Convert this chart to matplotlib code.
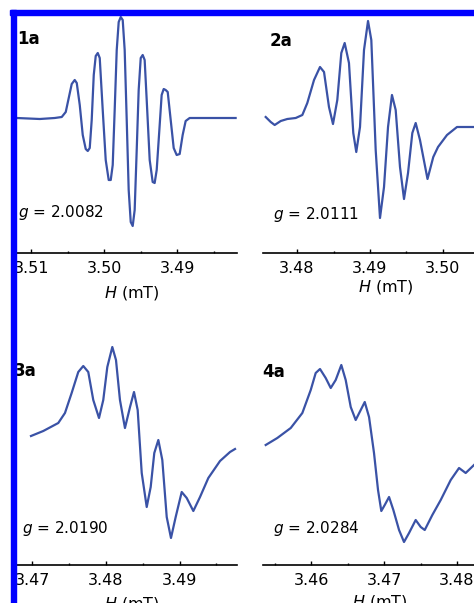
import matplotlib
matplotlib.use("Agg")
import matplotlib.pyplot as plt
from matplotlib.patches import Rectangle
from matplotlib.ticker import MultipleLocator, FormatStrFormatter

W, H = 474, 603

# EPR spectra, field in mT, signal in arbitrary units (baseline = 0)
field_1a = [3.51199, 3.50884, 3.50679, 3.50583, 3.50528, 3.50487, 3.50446, 3.50405,
            3.50377, 3.50336, 3.50295, 3.50254, 3.50226, 3.50199, 3.50172, 3.50144,
            3.50117, 3.50089, 3.50062, 3.50021, 3.49980, 3.49939, 3.49911, 3.49884,
            3.49857, 3.49829, 3.49802, 3.49774, 3.49747, 3.49720, 3.49692, 3.49665,
            3.49637, 3.49610, 3.49583, 3.49555, 3.49528, 3.49500, 3.49473, 3.49446,
            3.49418, 3.49377, 3.49336, 3.49309, 3.49281, 3.49240, 3.49213, 3.49185,
            3.49158, 3.49130, 3.49089, 3.49048, 3.49007, 3.48966, 3.48925, 3.48884,
            3.48829, 3.48555, 3.48199]
signal_1a = [0.00, -0.01, 0.00, 0.01, 0.06, 0.20, 0.34, 0.38,
             0.35, 0.13, -0.17, -0.31, -0.33, -0.30, -0.02, 0.43,
             0.62, 0.65, 0.60, 0.08, -0.42, -0.62, -0.62, -0.47,
             0.08, 0.68, 0.96, 1.01, 0.98, 0.68, -0.02, -0.72,
             -1.04, -1.08, -0.92, -0.32, 0.28, 0.60, 0.63, 0.58,
             0.18, -0.42, -0.64, -0.65, -0.52, -0.07, 0.23, 0.29,
             0.28, 0.26, -0.02, -0.30, -0.37, -0.36, -0.17, -0.03,
             0.00, 0.00, 0.00]

field_2a = [3.47571, 3.47640, 3.47694, 3.47777, 3.47867, 3.47982, 3.48073, 3.48141,
            3.48233, 3.48315, 3.48370, 3.48438, 3.48493, 3.48552, 3.48607, 3.48653,
            3.48712, 3.48771, 3.48812, 3.48863, 3.48918, 3.48973, 3.49018, 3.49078,
            3.49137, 3.49192, 3.49247, 3.49301, 3.49352, 3.49411, 3.49466, 3.49521,
            3.49580, 3.49626, 3.49685, 3.49788, 3.49867, 3.49932, 3.50055, 3.50192,
            3.50425]
signal_2a = [0.01, -0.04, -0.07, -0.03, -0.01, 0.00, 0.03, 0.15,
             0.38, 0.51, 0.46, 0.11, -0.06, 0.18, 0.65, 0.75,
             0.55, -0.15, -0.34, -0.09, 0.68, 0.97, 0.78, -0.32,
             -1.00, -0.69, -0.09, 0.23, 0.08, -0.49, -0.81, -0.55,
             -0.15, -0.05, -0.22, -0.61, -0.39, -0.29, -0.17, -0.09,
             -0.09]

field_3a = [3.46980, 3.47147, 3.47351, 3.47442, 3.47533, 3.47623, 3.47691, 3.47759,
            3.47827, 3.47905, 3.47963, 3.48018, 3.48086, 3.48136, 3.48190, 3.48258,
            3.48327, 3.48381, 3.48431, 3.48486, 3.48554, 3.48608, 3.48657, 3.48712,
            3.48766, 3.48826, 3.48884, 3.48948, 3.49030, 3.49098, 3.49188, 3.49279,
            3.49392, 3.49551, 3.49687, 3.49755]
signal_3a = [0.04, 0.09, 0.17, 0.27, 0.47, 0.68, 0.74, 0.68,
             0.40, 0.22, 0.40, 0.73, 0.93, 0.80, 0.40, 0.12,
             0.33, 0.48, 0.30, -0.33, -0.67, -0.47, -0.13, 0.00,
             -0.20, -0.77, -0.98, -0.77, -0.52, -0.58, -0.71, -0.57,
             -0.38, -0.21, -0.12, -0.09]

field_4a = [3.45379, 3.45538, 3.45722, 3.45881, 3.45996, 3.46064, 3.46123, 3.46201,
            3.46270, 3.46338, 3.46415, 3.46475, 3.46544, 3.46612, 3.46681, 3.46736,
            3.46795, 3.46863, 3.46918, 3.46963, 3.47010, 3.47069, 3.47128, 3.47206,
            3.47274, 3.47343, 3.47434, 3.47503, 3.47558, 3.47662, 3.47777, 3.47914,
            3.48028, 3.48119, 3.48233]
signal_4a = [-0.05, 0.02, 0.12, 0.27, 0.50, 0.67, 0.71, 0.62,
             0.52, 0.60, 0.75, 0.60, 0.33, 0.20, 0.30, 0.38,
             0.23, -0.13, -0.50, -0.71, -0.65, -0.57, -0.70, -0.90,
             -1.02, -0.93, -0.80, -0.87, -0.90, -0.75, -0.60, -0.40,
             -0.28, -0.33, -0.25]

panel_names = ["1a", "2a", "3a", "4a"]
g_values = ["2.0082", "2.0111", "2.0190", "2.0284"]
field_limits = [(3.5121, 3.4818), (3.47534, 3.50425), (3.46776, 3.49782), (3.45342, 3.48233)]

fields = [field_1a, field_2a, field_3a, field_4a]
signals = [signal_1a, signal_2a, signal_3a, signal_4a]

# layout in pixels: (left, top, right, bottom)
boxes = [(16, 10, 237, 253), (263, 10, 474, 253), (16, 322, 237, 565), (263, 322, 474, 565)]
ylims = [(-1.35, 1.08), (-1.35, 1.08), (-1.25, 1.18), (-1.25, 1.18)]
xlabel_pos = [(0.525, -0.128), (0.583, -0.104), (0.524, -0.124), (0.555, -0.115)]
name_pos = [(17, 44), (270, 46.5), (14, 376), (262, 377)]
g_pos = [(18, 216.5), (273, 218.5), (22, 533), (273, 533)]

line_color = '#3a52a6'


def px(x, y):
    return x / W, 1 - y / H


fig = plt.figure(figsize=(W / 100, H / 100), dpi=100)

for i in range(4):
    left, top, right, bottom = boxes[i]
    ax = fig.add_axes([left / W, 1 - bottom / H, (right - left) / W, (bottom - top) / H])
    ax.plot(fields[i], signals[i], color=line_color, lw=1.6, solid_joinstyle='round')
    ax.set_xlim(*field_limits[i])
    ax.set_ylim(*ylims[i])
    ax.patch.set_alpha(0)

    for side in ['left', 'right', 'top']:
        ax.spines[side].set_visible(False)
    ax.spines['bottom'].set_linewidth(1.2)
    ax.set_yticks([])
    ax.xaxis.set_major_locator(MultipleLocator(0.01))
    ax.xaxis.set_minor_locator(MultipleLocator(0.005))
    ax.xaxis.set_major_formatter(FormatStrFormatter('%.2f'))
    ax.tick_params(axis='x', which='major', direction='in', length=3.2, width=1.0,
                   labelsize=11.5, pad=5.5)
    ax.tick_params(axis='x', which='minor', direction='in', length=1.6, width=1.0)

    ax.set_xlabel(r'$H$ (mT)', fontsize=11.5)
    ax.xaxis.set_label_coords(*xlabel_pos[i])

    fig.text(*px(*name_pos[i]), panel_names[i], fontsize=12, fontweight='bold',
             ha='left', va='baseline')
    fig.text(*px(*g_pos[i]), r'$g$ = ' + g_values[i], fontsize=11,
             ha='left', va='baseline')

# blue frame of the crop
fig.add_artist(Rectangle(px(10, 15), (W - 10) / W, 5 / H, transform=fig.transFigure,
                         color='#0000ff', zorder=10))
fig.add_artist(Rectangle(px(11, H), 5 / W, (H - 10) / H, transform=fig.transFigure,
                         color='#0000ff', zorder=10))

fig.savefig('out.png', dpi=100)
